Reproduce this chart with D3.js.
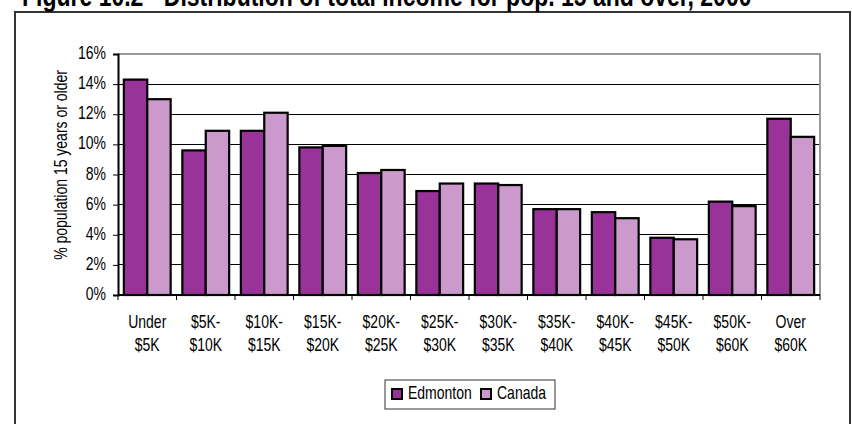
<!DOCTYPE html>
<html>
<head>
<meta charset="utf-8">
<script src="https://cdn.jsdelivr.net/npm/d3@7"></script>
<style>
  html, body { margin: 0; padding: 0; background: #fff; }
  svg { display: block; font-family: Arial, "Liberation Sans", sans-serif; }
</style>
</head>
<body>
<svg id="chart" width="852" height="424"></svg>
<script>
// Income brackets (two-line labels)
const categories = ["Under $5K", "$5K- $10K", "$10K- $15K", "$15K- $20K", "$20K- $25K", "$25K- $30K",
                    "$30K- $35K", "$35K- $40K", "$40K- $45K", "$45K- $50K", "$50K- $60K", "Over $60K"];
const labelLines = [["Under", "$5K"], ["$5K-", "$10K"], ["$10K-", "$15K"], ["$15K-", "$20K"], ["$20K-", "$25K"],
                    ["$25K-", "$30K"], ["$30K-", "$35K"], ["$35K-", "$40K"], ["$40K-", "$45K"], ["$45K-", "$50K"],
                    ["$50K-", "$60K"], ["Over", "$60K"]];
const seriesNames = ["Edmonton", "Canada"];
// Share of population aged 15+ in each bracket (%)
const edmonton = [14.3, 9.6, 10.9, 9.8, 8.1, 6.9, 7.4, 5.7, 5.5, 3.8, 6.2, 11.7];
const canada   = [13.0, 10.9, 12.1, 9.9, 8.3, 7.4, 7.3, 5.7, 5.1, 3.7, 5.9, 10.5];
const yTicks = [0, 2, 4, 6, 8, 10, 12, 14, 16];
const titleText = "Figure 10.2 - Distribution of total income for pop. 15 and over, 2000";
const yTitle = "% population 15 years or older";

const colors = { Edmonton: "#993399", Canada: "#cc99cc" };
const svg = d3.select("#chart");
const plot = { left: 118, right: 820, top: 54, bottom: 295 };
const STRETCH = 1.28; // tall, narrow lettering

// text helper: vertical stretch around the baseline
function label(g, x, y, str, opts = {}) {
  return g.append("text")
    .attr("transform", `translate(${x},${y}) scale(1,${STRETCH})`)
    .attr("text-anchor", opts.anchor || "middle")
    .attr("font-size", opts.size || 14)
    .attr("font-weight", opts.weight || "normal")
    .attr("fill", "#000")
    .text(str);
}

// outer frame
svg.append("rect").attr("x", 15).attr("y", 12).attr("width", 835).attr("height", 420)
  .attr("fill", "none").attr("stroke", "#333").attr("stroke-width", 2);

// title (partly above the top edge)
label(svg, 22, 6, titleText, { anchor: "start", size: 23, weight: "bold" });

const rows = categories.map((c, i) => ({ cat: c, lines: labelLines[i], Edmonton: edmonton[i], Canada: canada[i] }));

const x0 = d3.scaleBand().domain(categories).range([plot.left, plot.right]).paddingInner(0.2).paddingOuter(0.1);
const x1 = d3.scaleBand().domain(seriesNames).range([0, x0.bandwidth()]);
const y = d3.scaleLinear().domain([0, 16]).range([plot.bottom, plot.top]);
const step = x0.step();

// gridlines
svg.append("g").selectAll("line").data(yTicks.filter(t => t > 0 && t < 16)).join("line")
  .attr("x1", plot.left).attr("x2", plot.right)
  .attr("y1", d => y(d)).attr("y2", d => y(d))
  .attr("stroke", "#000").attr("stroke-width", 1).attr("shape-rendering", "crispEdges");

// plot area border (top and right, grey)
svg.append("path")
  .attr("d", `M${plot.left},${y(16)}H${plot.right}V${plot.bottom}`)
  .attr("fill", "none").attr("stroke", "#999").attr("stroke-width", 2);

// bars
const groups = svg.append("g").selectAll("g").data(rows).join("g")
  .attr("transform", d => `translate(${x0(d.cat)},0)`);
groups.selectAll("rect").data(d => seriesNames.map(s => ({ s, v: d[s] }))).join("rect")
  .attr("x", d => x1(d.s)).attr("width", x1.bandwidth())
  .attr("y", d => y(d.v)).attr("height", d => y(0) - y(d.v))
  .attr("fill", d => colors[d.s]).attr("stroke", "#000").attr("stroke-width", 2.2);

// y axis
const yAxis = svg.append("g").attr("transform", `translate(${plot.left},0)`)
  .call(d3.axisLeft(y).tickValues(yTicks).tickSize(5).tickFormat(d => d + "%"));
yAxis.select(".domain").attr("stroke", "#000").attr("stroke-width", 2);
yAxis.selectAll(".tick line").attr("stroke", "#000").attr("stroke-width", 1);
yAxis.selectAll(".tick text").remove();
yTicks.forEach(t => label(svg, 106, y(t) + 5, t + "%", { anchor: "end" }));

// x axis with ticks at bracket boundaries
const xAxisG = svg.append("g");
xAxisG.append("line").attr("x1", plot.left).attr("x2", plot.right)
  .attr("y1", plot.bottom).attr("y2", plot.bottom).attr("stroke", "#000").attr("stroke-width", 2);
xAxisG.selectAll("line.tk").data(d3.range(categories.length + 1)).join("line").attr("class", "tk")
  .attr("x1", i => plot.left + i * step).attr("x2", i => plot.left + i * step)
  .attr("y1", plot.bottom).attr("y2", plot.bottom + 5).attr("stroke", "#000").attr("stroke-width", 1);
rows.forEach(d => {
  const cx = x0(d.cat) + x0.bandwidth() / 2;
  label(svg, cx, 328, d.lines[0]);
  label(svg, cx, 351, d.lines[1]);
});

// y axis title
svg.append("text")
  .attr("transform", `translate(67,165) rotate(-90) scale(1,${STRETCH})`)
  .attr("text-anchor", "middle").attr("font-size", 14).attr("fill", "#000")
  .text(yTitle);

// legend
const lg = svg.append("g");
lg.append("rect").attr("x", 385).attr("y", 380).attr("width", 170).attr("height", 29)
  .attr("fill", "#fff").attr("stroke", "#333").attr("stroke-width", 1);
const legendX = [392, 481];
seriesNames.forEach((s, i) => {
  lg.append("rect").attr("x", legendX[i]).attr("y", 389).attr("width", 10).attr("height", 10)
    .attr("fill", colors[s]).attr("stroke", "#000").attr("stroke-width", 2);
  label(lg, legendX[i] + 16, 399, s, { anchor: "start" });
});
</script>
</body>
</html>
